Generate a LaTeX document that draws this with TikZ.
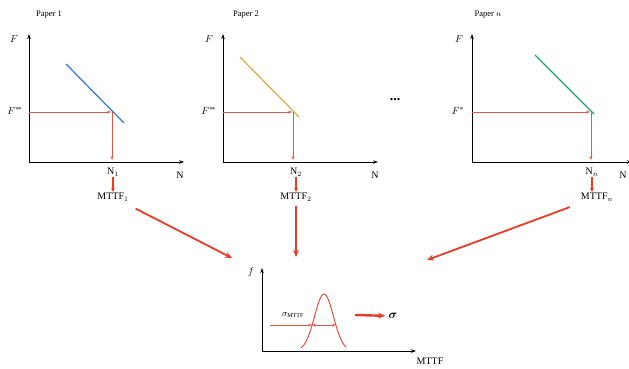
\documentclass[tikz,border=0pt]{standalone}
\usepackage{amsmath}
\usepackage{fontspec}
\setmainfont{Liberation Serif}
\usetikzlibrary{arrows.meta,positioning}
\definecolor{arrowred}{RGB}{232,60,40}
\definecolor{guidered}{RGB}{222,88,78}
\definecolor{lineblue}{RGB}{48,122,205}
\definecolor{lineyellow}{RGB}{214,172,72}
\definecolor{linegreen}{RGB}{26,166,108}
\tikzset{
  axis/.style={line width=1pt,-{Stealth[length=5pt,width=3.5pt]}},
  guide/.style={guidered,line width=0.7pt,-{Stealth[length=4pt,width=3pt]}},
  smallarrow/.style={arrowred,line width=1.2pt,-{Stealth[length=4pt,width=4pt]}},
  bigarrow/.style={arrowred,line width=1.8pt,-{Stealth[length=7pt,width=6pt]}},
  sn/.style={line width=1.2pt},
  lbl/.style={font=\fontsize{10}{12}\selectfont,inner sep=1pt},
  title/.style={font=\fontsize{8.5}{10}\selectfont,inner sep=1pt}
}
\begin{document}
\begin{tikzpicture}[x=1pt,y=-1pt]
    \useasboundingbox (0,0) rectangle (629,368);
    \clip (0,0) rectangle (629,368);
    % paper 1
    \begin{scope}[shift={(29,162)}]
      \draw[axis] (0,0) -- (0,-128);
      \draw[axis] (0,0) -- (155,0);
      \draw[sn,lineblue] (37,-98) -- (95,-39);
      \draw[guide] (0,-50) -- (82,-50);
      \draw[guide] (83,-50) -- (83,-2);
      \node[lbl] at (-15,-123) {$F$};
      \node[lbl] at (-14,-51) {$F^{*\!*}$};
      \node[lbl] at (151,13) {N};
      \node[title] at (20,-147) {Paper 1};
      \node[lbl] (n1) at (84,10) {N$_1$};
      \node[lbl] (mttf1) at (84,35) {MTTF$_1$};
    \end{scope}
    % paper 2
    \begin{scope}[shift={(223,162)}]
      \draw[axis] (0,0) -- (0,-128);
      \draw[axis] (0,0) -- (155,0);
      \draw[sn,lineyellow] (17,-105) -- (76,-45);
      \draw[guide] (0,-50) -- (69,-50);
      \draw[guide] (70,-50) -- (70,-2);
      \node[lbl] at (-14,-123) {$F$};
      \node[lbl] at (-14,-51) {$F^{*\!*}$};
      \node[lbl] at (152,13) {N};
      \node[title] at (23,-147) {Paper 2};
      \node[lbl] (n2) at (73,10) {N$_2$};
      \node[lbl] (mttf2) at (73,35) {MTTF$_2$};
    \end{scope}
    \node[font=\fontsize{14}{14}\selectfont\bfseries] (dots) at (395,100) {...};
    % paper n
    \begin{scope}[shift={(472,162)}]
      \draw[axis] (0,0) -- (0,-128);
      \draw[axis] (0,0) -- (160,0);
      \draw[sn,linegreen] (63,-107) -- (122,-48);
      \draw[guide] (0,-50) -- (118,-50);
      \draw[guide] (119,-50) -- (119,-2);
      \node[lbl] at (-13,-123) {$F$};
      \node[lbl] at (-14,-51) {$F^{*}$};
      \node[lbl] at (151,13) {N};
      \node[title] at (16,-147) {Paper $n$};
      \node[lbl] (nn) at (120,10) {N$_n$};
      \node[lbl] (mttfn) at (125,35) {MTTF$_n$};
    \end{scope}
    % distribution of MTTF
    \begin{scope}[shift={(262,351)}]
      \draw[axis] (0,0) -- (0,-83);
      \draw[axis] (0,0) -- (154,0);
      \draw[arrowred,line width=0.9pt] plot[domain=39:84,samples=60,smooth]
        (\x,{-57*exp(-0.5*((\x-62)/9.5)^2)});
      \draw[guide] (8,-26) -- (50,-26);
      \draw[guide,{Stealth[length=4pt,width=3pt]}-{Stealth[length=4pt,width=3pt]}] (50,-26) -- (74,-26);
      \node[font=\fontsize{9}{10}\selectfont,inner sep=1pt] at (31,-36) {$\sigma_{\mathrm{MTTF}}$};
      \node[lbl] at (-11,-79) {$f$};
      \node[lbl] at (168,10) {MTTF};
      \coordinate (in1) at (-30,-93);
      \coordinate (in2) at (34,-94);
      \coordinate (inn) at (165,-91);
      \coordinate (sigfrom) at (93,-36);
      \node[font=\fontsize{12}{12}\selectfont] (sig) at (131,-35) {$\boldsymbol{\sigma}$};
    \end{scope}
    % connectors
    \draw[smallarrow] (n1) -- (mttf1);
    \draw[smallarrow] (n2) -- (mttf2);
    \draw[smallarrow] (nn.south) -- (nn.south |- mttfn.north);
    \draw[bigarrow,shorten <=14pt] (mttf1) -- (in1);
    \draw[bigarrow,shorten <=4pt] (mttf2) -- (in2);
    \draw[bigarrow,shorten <=14pt] (mttfn) -- (inn);
    \draw[bigarrow,line width=2.4pt] (sigfrom) -- (sig);
  \end{tikzpicture}
\end{document}
